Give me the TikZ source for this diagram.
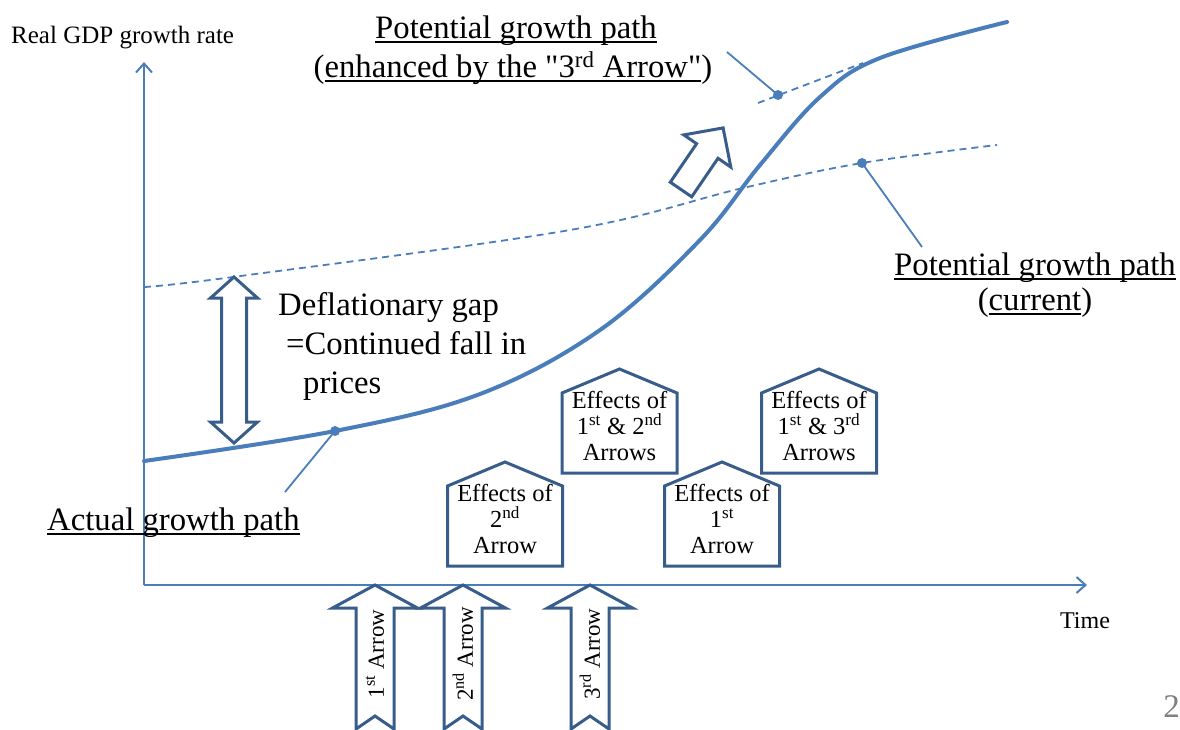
\documentclass[tikz,border=0pt]{standalone}
\usepackage{fontspec}
\setmainfont{Liberation Serif}
% same face without TeX ligatures, for straight double quotes
\newfontfamily\straightquotes{Liberation Serif}
\usetikzlibrary{arrows.meta}

\definecolor{lineblue}{RGB}{74,126,187}
\definecolor{edgeblue}{RGB}{56,93,138}
\definecolor{pagegray}{RGB}{127,127,127}

% underline at a fixed depth, crossing the descenders
\newcommand\lineunder[1]{\setbox0\hbox{#1}\rlap{\rule[-5pt]{\wd0}{1.6pt}}\box0}
\newcommand\dq{{\straightquotes"}}

\tikzset{
  axisline/.style={draw=lineblue, line width=2pt,
    -{Straight Barb[length=9pt,width=16pt,line width=2pt]}},
  growthcurve/.style={draw=lineblue, line width=4pt, line cap=round},
  potpath/.style={draw=lineblue, line width=1.8pt, dash pattern=on 7pt off 5pt},
  leader/.style={draw=lineblue, line width=1.8pt},
  pointdot/.style={fill=lineblue},
  hollow/.style={draw=edgeblue, fill=white, line width=3pt, line join=miter},
  biglabel/.style={inner sep=0pt, font=\fontsize{32.7}{38}\selectfont},
  smalllabel/.style={inner sep=0pt, font=\fontsize{25}{28}\selectfont},
  housetext/.style={inner sep=0pt, align=center, font=\fontsize{24.5}{26}\selectfont},
  arrowtext/.style={inner sep=0pt, rotate=90, font=\fontsize{23}{26}\selectfont},
}

% house-shaped box: name, centre x, roof apex y, text
\newcommand\effectbox[4]{%
  \draw[hollow] (#2,#3) -- (#2+57.5,#3+24) -- (#2+57.5,#3+104)
     -- (#2-57.5,#3+104) -- (#2-57.5,#3+24) -- cycle;
  \node[housetext] (#1) at (#2,#3+57) {#4};}

% upward block arrow standing on the time axis: name, centre x, text
\newcommand\policyarrow[3]{%
  \draw[hollow] (#2,585) -- (#2+42.5,608) -- (#2+19,608) -- (#2+19,729)
     -- (#2,716) -- (#2-19,729) -- (#2-19,608) -- (#2-42.5,608) -- cycle;
  \node[arrowtext] (#1) at (#2,654) {#3};}

\begin{document}
\begin{tikzpicture}[x=1pt,y=-1pt]
\useasboundingbox (0,0) rectangle (1180,729);
\clip (0,0) rectangle (1180,729);

% axes
\coordinate (origin) at (144,585);
\coordinate (ytop) at (144,62);
\coordinate (xend) at (1087,585);
\draw[axisline] (origin) -- (ytop);
\draw[axisline] (origin) -- (xend);
\node[smalllabel, anchor=base west] (ylabel) at (11,43) {Real GDP growth rate};
\node[inner sep=0pt, font=\fontsize{24}{28}\selectfont, anchor=base] (xlabel) at (1085,628) {Time};

% potential growth paths
\draw[potpath] plot[smooth, tension=0.6] coordinates
  {(144,287) (233,277) (570,230) (743,188) (862,163) (997,145)};
\coordinate (curdot) at (862,163);
\coordinate (enhstart) at (758,103);
\coordinate (enhend) at (863,63);
\draw[potpath] (enhstart) -- (enhend);
\coordinate (enhdot) at (778,95);

% actual growth path
\draw[growthcurve] plot[smooth, tension=0.6] coordinates
  {(144,461) (335,431) (480,394) (600,330) (700,240) (760,165)
   (820,97) (880,58) (1007,22)};
\coordinate (actdot) at (335,431);

% dots and leader lines
\fill[pointdot] (curdot) circle (5);
\fill[pointdot] (enhdot) circle (5);
\fill[pointdot] (actdot) circle (5);
\coordinate (curlead) at (922,247);
\coordinate (enhlead) at (727,52);
\coordinate (actlead) at (285,492);
\draw[leader] (curdot) -- (curlead);
\draw[leader] (enhlead) -- (enhdot);
\draw[leader] (actdot) -- (actlead);

% path labels
\node[biglabel, anchor=base] (enh1) at (516,38) {\lineunder{Potential growth path}};
\node[biglabel, anchor=base] (enh2) at (513,77)
  {(\lineunder{enhanced by the \dq3\textsuperscript{rd} Arrow\dq})};
\node[biglabel, anchor=base] (cur1) at (1035,275) {\lineunder{Potential growth path}};
\node[biglabel, anchor=base] (cur2) at (1035,310) {(\lineunder{current})};
\node[biglabel, anchor=base west] (act) at (47,530) {\lineunder{Actual growth path}};

% deflationary gap
\draw[hollow] (234,277) -- (257.5,298) -- (246.5,298) -- (246.5,422) -- (257.5,422)
  -- (234,443) -- (210.5,422) -- (221.5,422) -- (221.5,298) -- (210.5,298) -- cycle;
\node[biglabel, anchor=base west] (gap1) at (278,315) {Deflationary gap};
\node[biglabel, anchor=base west] (gap2) at (286,354) {=Continued fall in};
\node[biglabel, anchor=base west] (gap3) at (303,393) {prices};

% shift of the potential path
\draw[hollow] (723.1,127.9) -- (730.8,167.1) -- (718,158.3) -- (691.7,196.8)
  -- (670.3,182.2) -- (696.6,143.7) -- (683.8,134.9) -- cycle;

% effects
\effectbox{eff2}{505}{462}{Effects of\\2\textsuperscript{nd}\\Arrow}
\effectbox{eff12}{619.5}{369}{Effects of\\1\textsuperscript{st} \& 2\textsuperscript{nd}\\Arrows}
\effectbox{eff1}{722}{462}{Effects of\\1\textsuperscript{st}\\Arrow}
\effectbox{eff13}{819}{369}{Effects of\\1\textsuperscript{st} \& 3\textsuperscript{rd}\\Arrows}

% the three arrows
\policyarrow{arrow1}{375}{1\textsuperscript{st} Arrow}
\policyarrow{arrow2}{463}{2\textsuperscript{nd} Arrow}
\policyarrow{arrow3}{590}{3\textsuperscript{rd} Arrow}

% page number
\node[inner sep=0pt, font=\fontsize{33}{36}\selectfont, text=pagegray, anchor=base east]
  (pageno) at (1180,717) {2};
\end{tikzpicture}
\end{document}
